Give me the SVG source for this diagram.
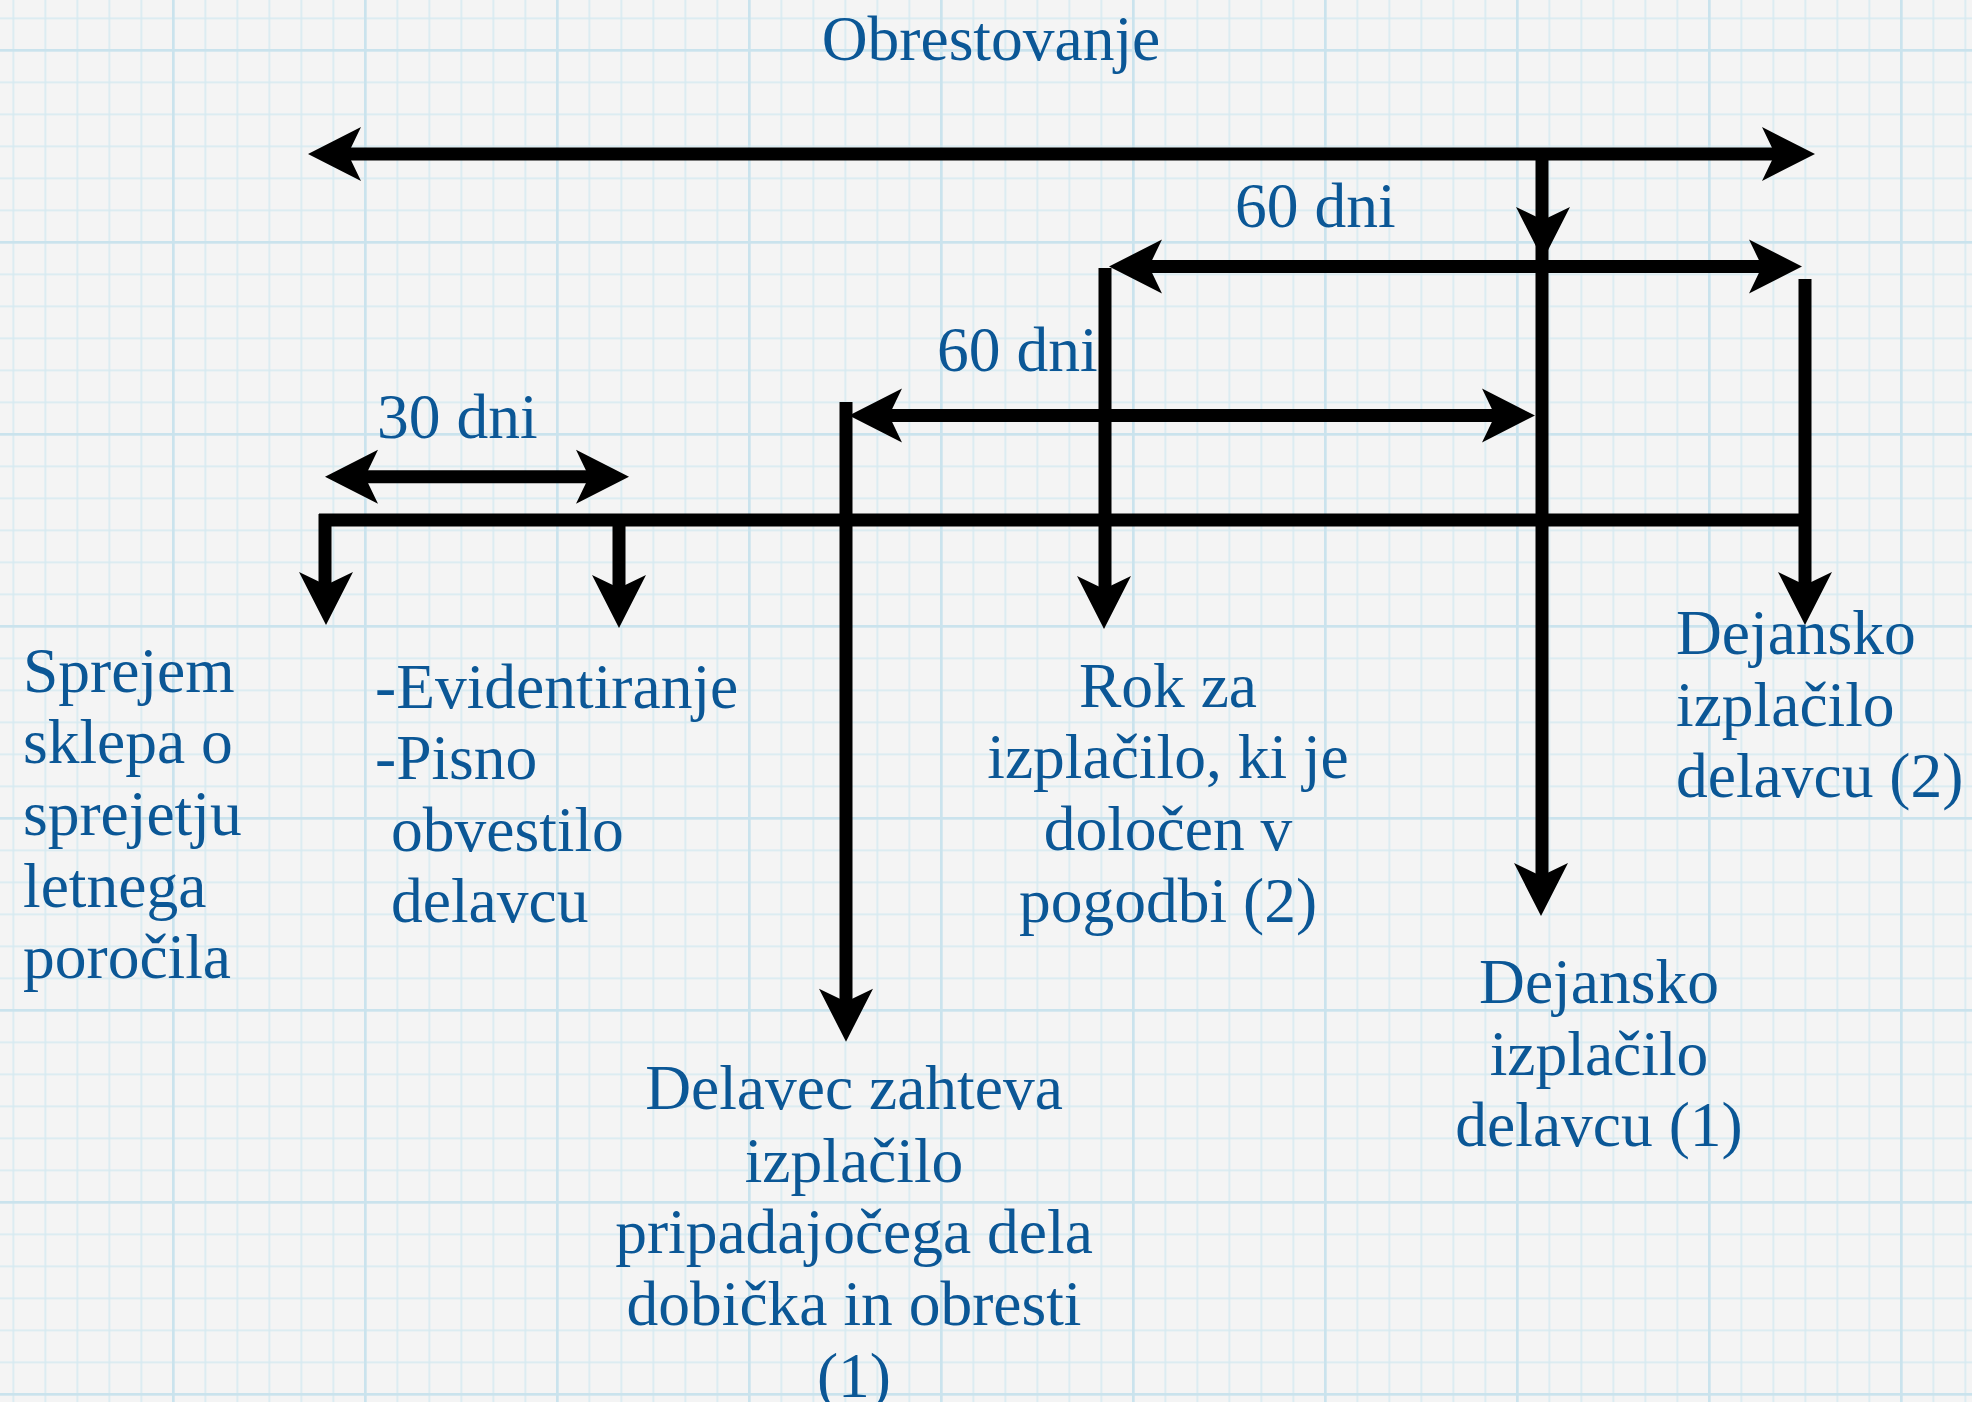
<svg xmlns="http://www.w3.org/2000/svg" xmlns:xlink="http://www.w3.org/1999/xlink" width="1972" height="1402" viewBox="0 0 1972 1402">
<style>
.t{font-family:"Liberation Serif","Times New Roman",serif;font-size:63.5px;fill:#0b5796}
.m{text-anchor:middle}
.ln{stroke:#000;stroke-width:13;fill:none;stroke-linecap:butt}
.ah{fill:#000}
</style>
<defs>
<pattern id="gMinor" patternUnits="userSpaceOnUse" x="12.5" y="17.5" width="32" height="32">
<rect x="0" y="0" width="1.6" height="32" fill="#d6eaf1"/>
<rect x="0" y="0" width="32" height="1.6" fill="#d6eaf1"/>
</pattern>
<pattern id="gMajor" patternUnits="userSpaceOnUse" x="172" y="49" width="192" height="192">
<rect x="0" y="0" width="2.6" height="192" fill="#cae3ed"/>
<rect x="0" y="0" width="192" height="2.6" fill="#cae3ed"/>
</pattern>
<path id="ah" class="ah" d="M0 0 L-53 -27 L-40 0 L-53 27 Z"/>
</defs>
<rect width="1972" height="1402" fill="#f4f4f4"/>
<rect width="1972" height="1402" fill="url(#gMinor)"/>
<rect width="1972" height="1402" fill="url(#gMajor)"/>

<g id="connectors">
<path class="ln" d="M340 154 H1780"/>
<path class="ln" d="M1542 148 V880"/>
<path class="ln" d="M1140 266.5 H1770"/>
<path class="ln" d="M1105 268 V600"/>
<path class="ln" d="M1805 279 V600"/>
<path class="ln" d="M880 415.5 H1505"/>
<path class="ln" d="M846 402 V1010"/>
<path class="ln" d="M355 476.7 H600"/>
<path class="ln" d="M319 520 H1811"/>
<path class="ln" d="M325 514 V595"/>
<path class="ln" d="M619 514 V600"/>
<use xlink:href="#ah" href="#ah" transform="translate(308 154) rotate(180)"/>
<use xlink:href="#ah" href="#ah" transform="translate(1815 154)"/>
<use xlink:href="#ah" href="#ah" transform="translate(1543 260) rotate(90)"/>
<use xlink:href="#ah" href="#ah" transform="translate(1109 266.5) rotate(180)"/>
<use xlink:href="#ah" href="#ah" transform="translate(1802 266.5)"/>
<use xlink:href="#ah" href="#ah" transform="translate(849 415.5) rotate(180)"/>
<use xlink:href="#ah" href="#ah" transform="translate(1535 415.5)"/>
<use xlink:href="#ah" href="#ah" transform="translate(325 476.7) rotate(180)"/>
<use xlink:href="#ah" href="#ah" transform="translate(629 476.7)"/>
<use xlink:href="#ah" href="#ah" transform="translate(326 625) rotate(90)"/>
<use xlink:href="#ah" href="#ah" transform="translate(619 628) rotate(90)"/>
<use xlink:href="#ah" href="#ah" transform="translate(1104 629) rotate(90)"/>
<use xlink:href="#ah" href="#ah" transform="translate(1805 625) rotate(90)"/>
<use xlink:href="#ah" href="#ah" transform="translate(846 1041.7) rotate(90)"/>
<use xlink:href="#ah" href="#ah" transform="translate(1541 916) rotate(90)"/>
</g>

<g id="title"><text class="t m" x="991" y="60">Obrestovanje</text></g>
<g id="label-60-upper"><text class="t" x="1235" y="226.7">60 dni</text></g>
<g id="label-60-lower"><text class="t" x="937" y="371">60 dni</text></g>
<g id="label-30"><text class="t" x="377" y="437.7">30 dni</text></g>

<g id="node-sprejem">
<text class="t" x="23" y="691.7">Sprejem</text>
<text class="t" x="23" y="763.3">sklepa o</text>
<text class="t" x="23" y="835">sprejetju</text>
<text class="t" x="23" y="906.7">letnega</text>
<text class="t" x="23" y="978.3">poročila</text>
</g>
<g id="node-evidentiranje">
<text class="t" x="375" y="708.3">-Evidentiranje</text>
<text class="t" x="375" y="779.3">-Pisno</text>
<text class="t" x="391" y="850.7">obvestilo</text>
<text class="t" x="391" y="921.7">delavcu</text>
</g>
<g id="node-rok">
<text class="t m" x="1168" y="706.7">Rok za</text>
<text class="t m" x="1168" y="778.3">izplačilo, ki je</text>
<text class="t m" x="1168" y="850">določen v</text>
<text class="t m" x="1168" y="921.7">pogodbi (2)</text>
</g>
<g id="node-dejansko-2">
<text class="t" x="1676" y="654">Dejansko</text>
<text class="t" x="1676" y="726">izplačilo</text>
<text class="t" x="1676" y="797.3">delavcu (2)</text>
</g>
<g id="node-dejansko-1">
<text class="t m" x="1599" y="1003.3">Dejansko</text>
<text class="t m" x="1599" y="1075">izplačilo</text>
<text class="t m" x="1599" y="1146">delavcu (1)</text>
</g>
<g id="node-delavec">
<text class="t m" x="854" y="1109">Delavec zahteva</text>
<text class="t m" x="854" y="1181.7">izplačilo</text>
<text class="t m" x="854" y="1253">pripadajočega dela</text>
<text class="t m" x="854" y="1325">dobička in obresti</text>
<text class="t m" x="854" y="1397">(1)</text>
</g>
</svg>
